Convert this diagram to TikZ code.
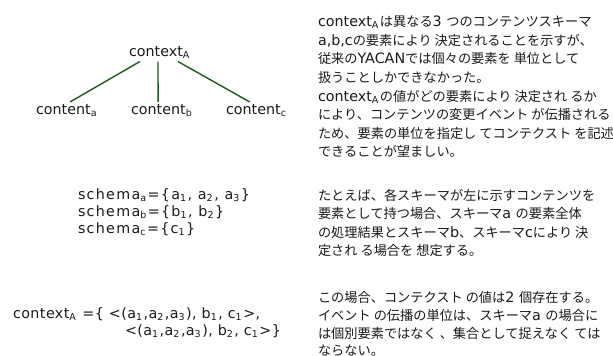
\documentclass[tikz,border=0pt]{standalone}
\usepackage{fontspec}
\setmainfont{DejaVu Sans}
\newfontfamily\cjk{Noto Sans CJK JP}
\newfontfamily\spaced[LetterSpace=9]{DejaVu Sans}
\newfontfamily\lspaced[LetterSpace=3]{DejaVu Sans}
\newcommand\J[1]{{\cjk\fontsize{13.2}{15}\selectfont #1}}
\newcommand\sbs[1]{\raisebox{-0.32ex}{\fontsize{9.5}{9.5}\selectfont #1}\kern1.5pt}
\definecolor{linegreen}{HTML}{1F5A1F}
\definecolor{txt}{HTML}{1A1A1A}
\tikzset{
  lbl/.style={anchor=base west, inner sep=0pt, outer sep=0pt, text=txt, font=\fontsize{14.3}{16}\selectfont},
  sch/.style={lbl, font=\spaced\fontsize{14.3}{16}\selectfont},
  frm/.style={lbl, font=\lspaced\fontsize{14.3}{16}\selectfont},
  jp/.style={anchor=base west, inner sep=0pt, outer sep=0pt, text=txt, font=\fontsize{14.3}{16}\selectfont},
  edge/.style={draw=linegreen, line width=1.4pt}
}
\begin{document}
\begin{tikzpicture}[x=1pt,y=-1pt]
\useasboundingbox (0,0) rectangle (613,356);
% tree
\node[lbl] (ctx) at (129,56) {context\sbs{A}};
\node[lbl] (ca) at (36,114) {content\sbs{a}};
\node[lbl] (cb) at (131,114) {content\sbs{b}};
\node[lbl] (cc) at (226,114) {content\sbs{c}};
\draw[edge] ([xshift=-20pt,yshift=-3pt]ctx.south) -- ([xshift=3pt,yshift=2pt]ca.north);
\draw[edge] ([xshift=-2pt,yshift=-3pt]ctx.south) -- ([xshift=-4pt,yshift=2pt]cb.north);
\draw[edge] ([xshift=18pt,yshift=-3pt]ctx.south) -- ([xshift=-7pt,yshift=2pt]cc.north);
% schemas
\node[sch] (sa) at (78,199) {schema\sbs{a}=\{a\sbs{1}, a\sbs{2}, a\sbs{3}\}};
\node[sch] (sb) at (78,216) {schema\sbs{b}=\{b\sbs{1}, b\sbs{2}\}};
\node[sch] (sc) at (78,233) {schema\sbs{c}=\{c\sbs{1}\}};
% formula
\node[frm] (f1) at (13,318) {context\sbs{A}\ =\{ <(a\sbs{1},a\sbs{2},a\sbs{3}), b\sbs{1}, c\sbs{1}>,};
\node[frm] (f2) at (125,335) {<(a\sbs{1},a\sbs{2},a\sbs{3}), b\sbs{2}, c\sbs{1}>\}};
% right column paragraph 1
\node[jp] (r1) at (318,26) {context\sbs{A}\J{は異なる}3 \J{つのコンテンツスキーマ}};
\node[jp] (r2) at (318,45) {a,b,c\J{の要素により 決定されることを示すが、}};
\node[jp] (r3) at (318,63) {\J{従来の}YACAN\J{では個々の要素を 単位として}};
\node[jp] (r4) at (318,82) {\J{扱うことしかできなかった。}};
\node[jp] (r5) at (318,101) {context\sbs{A}\J{の値がどの要素により 決定され るか}};
\node[jp] (r6) at (318,119) {\J{により、コンテンツの変更イベント が伝播される}};
\node[jp] (r7) at (318,138) {\J{ため、要素の単位を指定し てコンテクスト を記述}};
\node[jp] (r8) at (318,156) {\J{できることが望ましい。}};
% paragraph 2
\node[jp] (s1) at (318,200) {\J{たとえば、各スキーマが左に示すコンテンツを}};
\node[jp] (s2) at (318,218) {\J{要素として持つ場合、スキーマ}a \J{の要素全体}};
\node[jp] (s3) at (318,237) {\J{の処理結果とスキーマ}b\J{、スキーマ}c\J{により 決}};
\node[jp] (s4) at (318,255) {\J{定され る場合を 想定する。}};
% paragraph 3
\node[jp] (t1) at (318,302) {\J{この場合、コンテクスト の値は}2 \J{個存在する。}};
\node[jp] (t2) at (318,320) {\J{イベント の伝播の単位は、スキーマ}a \J{の場合に}};
\node[jp] (t3) at (318,338) {\J{は個別要素ではなく 、集合として捉えなく ては}};
\node[jp] (t4) at (318,355) {\J{ならない。}};
\end{tikzpicture}
\end{document}
